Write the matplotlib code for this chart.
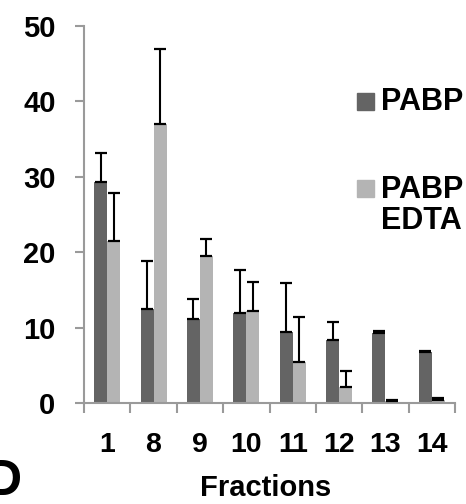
import matplotlib
matplotlib.use("Agg")
import matplotlib.pyplot as plt
from matplotlib.patches import Rectangle
import numpy as np

plt.rcParams['font.family'] = ['Liberation Sans', 'DejaVu Sans']
plt.rcParams['font.weight'] = 'bold'

fractions = ["1", "8", "9", "10", "11", "12", "13", "14"]
pabp = [29.3, 12.5, 11.1, 12.0, 9.4, 8.4, 9.3, 6.7]
pabp_err = [3.8, 6.3, 2.65, 5.6, 6.5, 2.4, 0.3, 0.2]
edta = [21.5, 37.0, 19.5, 12.25, 5.4, 2.1, 0.3, 0.4]
edta_err = [6.4, 9.9, 2.2, 3.85, 6.0, 2.2, 0.05, 0.2]
series_labels = ["PABP", "PABP\nEDTA"]
yticks = [0, 10, 20, 30, 40, 50]

dark = "#646464"
light = "#b4b4b4"
axis_col = "#9a9a9a"

W, H = 466, 504
fig = plt.figure(figsize=(W / 100, H / 100), dpi=100)
ax = fig.add_axes([84 / W, 101 / H, (455 - 84) / W, (403 - 26) / H])

x = np.arange(len(fractions))
bw = 0.28
ax.bar(x - bw / 2, pabp, width=bw, color=dark, zorder=2)
ax.bar(x + bw / 2, edta, width=bw, color=light, zorder=2)
ekw = dict(fmt='none', ecolor='black', elinewidth=1.5, capsize=4.5, capthick=1.6, zorder=3)
ax.errorbar(x - bw / 2, pabp, yerr=[np.zeros(len(pabp)), pabp_err], **ekw)
ax.errorbar(x + bw / 2, edta, yerr=[np.zeros(len(edta)), edta_err], **ekw)

ax.set_xlim(-0.5, len(fractions) - 0.5)
ax.set_ylim(0, 50)
ax.set_yticks(yticks)
ax.set_yticklabels([str(v) for v in yticks], fontsize=21, fontweight='bold')
ax.set_xticks(x)
ax.set_xticklabels(fractions, fontsize=20.5, fontweight='bold')
ax.set_xticks(np.arange(-0.5, len(fractions) + 0.5, 1.0), minor=True)
ax.tick_params(axis='x', which='major', length=0, pad=21)
ax.tick_params(axis='x', which='minor', length=7.5, width=1.5, color=axis_col, direction='out')
ax.tick_params(axis='y', which='major', length=6.5, width=1.5, color=axis_col, pad=14)

for s in ['top', 'right']:
    ax.spines[s].set_visible(False)
for s in ['left', 'bottom']:
    ax.spines[s].set_color(axis_col)
    ax.spines[s].set_linewidth(1.5)

fig.text(266 / W, 1 - 496 / H, "Fractions", ha='center', va='baseline',
         fontsize=21, fontweight='bold')

# legend
leg_items = [(dark, series_labels[0], 101.5), (light, series_labels[1], 188.5)]
for col, lab, yc in leg_items:
    fig.add_artist(Rectangle((357 / W, 1 - (yc + 8.5) / H), 17 / W, 17 / H,
                             transform=fig.transFigure, color=col))
    fig.text(381 / W, 1 - (yc - 14) / H, lab, ha='left', va='top',
             fontsize=22, fontweight='bold', linespacing=1.05)

fig.text(22 / W, 9 / H, "D", ha='right', va='baseline', fontsize=36, fontweight='bold')

fig.savefig("out.png", dpi=100)
